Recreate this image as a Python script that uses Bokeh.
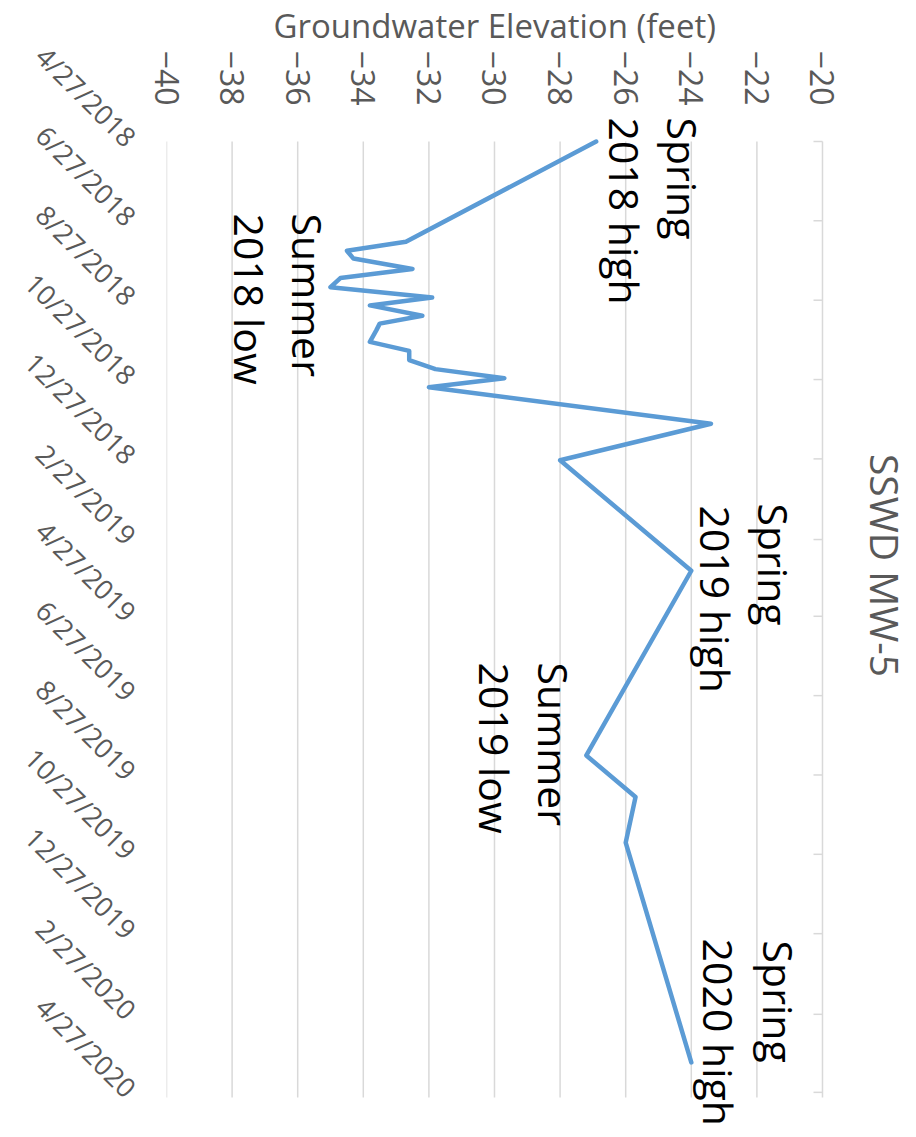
import math
from datetime import date
from bokeh.plotting import figure
from bokeh.models import Range1d, FixedTicker, Label, ColumnDataSource
from bokeh.embed import file_html
from bokeh.resources import INLINE

# ---- data ----
sample_dates = ["2018-04-27", "2018-07-13", "2018-07-20", "2018-07-26", "2018-08-03",
                "2018-08-10", "2018-08-17", "2018-08-25", "2018-08-31", "2018-09-08",
                "2018-09-14", "2018-09-19", "2018-09-28", "2018-10-05", "2018-10-12",
                "2018-10-19", "2018-10-26", "2018-11-02", "2018-11-30", "2018-12-28",
                "2019-03-23", "2019-08-12", "2019-09-13", "2019-10-18", "2020-04-04"]
elevation_ft = [-26.9, -32.7, -34.5, -34.3, -32.5,
                -34.7, -35.0, -31.9, -33.8, -32.2,
                -33.5, -33.6, -33.8, -32.6, -32.6,
                -31.8, -29.7, -32.0, -23.4, -28.0,
                -24.0, -27.2, -25.7, -26.0, -24.0]

date_tick_labels = ["4/27/2018", "6/27/2018", "8/27/2018", "10/27/2018", "12/27/2018",
                    "2/27/2019", "4/27/2019", "6/27/2019", "8/27/2019", "10/27/2019",
                    "12/27/2019", "2/27/2020", "4/27/2020"]
date_axis_min = "2018-04-27"
date_axis_max = "2020-05-01"
elev_ticks = [-40, -38, -36, -34, -32, -30, -28, -26, -24, -22, -20]

# annotations: (text, elevation at baseline, days after first date at text start)
annotations = [
    ("Spring", -24.24, -18.5), ("2018 high", -26.01, -18.5),
    ("Summer", -35.70, 55.4), ("2018 low", -37.44, 55.4),
    ("Spring", -21.49, 278.3), ("2019 high", -23.26, 279.8),
    ("Summer", -28.20, 400.6), ("2019 low", -29.97, 400.6),
    ("Spring", -21.34, 614.3), ("2020 high", -23.17, 612.8),
]
chart_title = "SSWD MW-5"
axis_title = "Groundwater Elevation (feet)"

# ---- helpers ----
origin = date(2018, 4, 27)

def iso_days(s):
    y, m, d = map(int, s.split("-"))
    return (date(y, m, d) - origin).days

def us_days(s):
    m, d, y = map(int, s.split("/"))
    return (date(y, m, d) - origin).days

days = [iso_days(s) for s in sample_dates]
tick_days = [us_days(s) for s in date_tick_labels]
d_min, d_max = iso_days(date_axis_min), iso_days(date_axis_max)

FONT = "Open Sans"
GREY = "#595959"
GRID = "#d9d9d9"

# frame: x -40 at 166px, 32.8 px per foot; y day 0 at 141px, 1.3007 px per day
p = figure(frame_width=750, frame_height=1025,
           x_range=Range1d(-40, -17.134), y_range=Range1d(765.7, -22.3),
           x_axis_location="above", y_axis_location="left",
           title=axis_title, title_location="above",
           output_backend="svg", toolbar_location=None,
           min_border_left=166, min_border_right=0,
           min_border_top=112, min_border_bottom=0)
p.outline_line_color = None
p.background_fill_color = "white"
p.border_fill_color = "white"
p.xgrid.visible = False
p.ygrid.visible = False

# value-axis title rendered as the plot title (sits above the tick labels)
p.title.align = "left"
p.title.offset = 107
p.title.standoff = -1
p.title.text_font = FONT
p.title.text_font_size = "33px"
p.title.text_font_style = "normal"
p.title.text_color = GREY

# gridlines (value axis) spanning the date axis extent
n_g = len(elev_ticks)
p.segment(x0=elev_ticks, y0=[d_min] * n_g, x1=elev_ticks, y1=[d_max] * n_g,
          line_color=GRID, line_width=1.5)
# date-axis tick marks on the -20 line, pointing inward
p.ray(x=[elev_ticks[-1]] * len(tick_days), y=tick_days, length=9, length_units="screen",
      angle=math.pi, line_color=GRID, line_width=1.5)

src = ColumnDataSource(dict(day=days, elev=elevation_ft))
p.line(x="elev", y="day", source=src, line_color="#5b9bd5", line_width=4.5,
       line_join="round", line_cap="round")

# top (value) axis: labels only
xa = p.xaxis[0]
xa.ticker = FixedTicker(ticks=elev_ticks)
xa.axis_line_color = None
xa.major_tick_line_color = None
xa.minor_tick_line_color = None
xa.major_tick_out = 0
xa.minor_tick_out = 0
xa.major_tick_in = 0
xa.major_label_orientation = -math.pi / 2
xa.major_label_standoff = 7
xa.major_label_text_font = FONT
xa.major_label_text_font_size = "32px"
xa.major_label_text_color = GREY

# left (date) axis: labels only
ya = p.yaxis[0]
ya.ticker = FixedTicker(ticks=tick_days)
ya.major_label_overrides = {d: lbl for d, lbl in zip(tick_days, date_tick_labels)}
ya.axis_line_color = None
ya.major_tick_line_color = None
ya.minor_tick_line_color = None
ya.major_tick_out = 0
ya.minor_tick_out = 0
ya.major_tick_in = 0
ya.major_label_orientation = -math.pi / 4
ya.major_label_standoff = 35
ya.major_label_text_font = FONT
ya.major_label_text_font_size = "27px"
ya.major_label_text_color = GREY

for txt, ex, dy in annotations:
    p.add_layout(Label(x=ex, y=dy, text=txt, angle=-math.pi / 2,
                       text_align="left", text_baseline="alphabetic",
                       text_font=FONT, text_font_size="41px", text_color="black"))

p.add_layout(Label(x=-18.08, y=326, text=chart_title, angle=-math.pi / 2,
                   text_align="center", text_baseline="alphabetic",
                   text_font=FONT, text_font_size="39px", text_color=GREY))

open("out.html", "w").write(file_html(p, INLINE))
